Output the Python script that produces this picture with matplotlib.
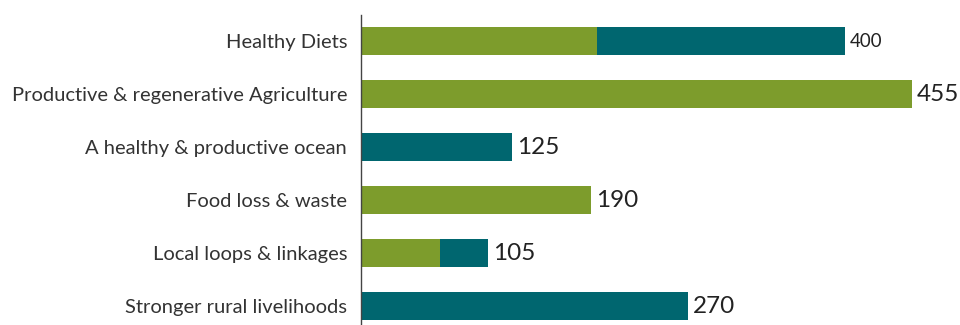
import numpy as np
import matplotlib.pyplot as plt

plt.rcParams['font.family'] = ['Lato', 'DejaVu Sans']

categories = ["Healthy Diets", "Productive & regenerative Agriculture",
              "A healthy & productive ocean", "Food loss & waste",
              "Local loops & linkages", "Stronger rural livelihoods"]
green_vals = [195, 455, 0, 190, 65, 0]
teal_vals = [205, 0, 125, 0, 40, 270]
totals = [400, 455, 125, 190, 105, 270]

green = "#7d9c2c"
teal = "#00666f"

fig = plt.figure(figsize=(9.6, 3.25), dpi=100)
ax = fig.add_axes([361 / 960, 0, 593 / 960, 310 / 325])

y = np.arange(len(categories))
ax.barh(y, green_vals, height=0.53, color=green)
ax.barh(y, teal_vals, left=green_vals, height=0.53, color=teal)

for i, t in enumerate(totals):
    size = 13.5 if i == 0 else 17.5
    ax.annotate(str(t), (t, i), xytext=(3.5, 0), textcoords="offset points",
                va="center", ha="left", fontsize=size, color="#222222")

ax.set_yticks(y)
ax.set_yticklabels(categories, fontsize=14.5, color="#333333")
ax.set_ylim(5 + 19 / 53, -0.5)
ax.set_xlim(0, 490)
ax.set_xticks([])
ax.tick_params(axis="y", length=0, pad=10)
for s in ["top", "right", "bottom"]:
    ax.spines[s].set_visible(False)
ax.spines["left"].set_color("#444444")
ax.spines["left"].set_linewidth(1)

fig.savefig("out.png", dpi=100)
